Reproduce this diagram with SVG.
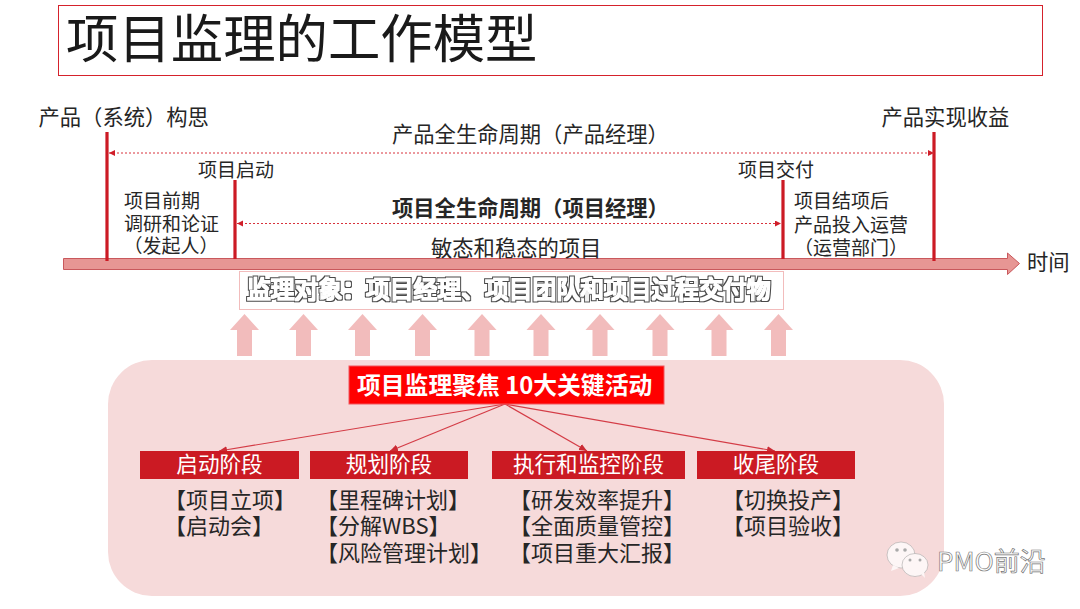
<svg xmlns="http://www.w3.org/2000/svg" width="1080" height="609" viewBox="0 0 1080 609">
<style>
text{font-family:"Noto Sans CJK SC","Liberation Sans",sans-serif;fill:#262626;font-size:21.300px}
.m{text-anchor:middle}
.b{font-weight:700}
.s{font-size:19px}
.vl{stroke:#cc1a24;stroke-width:3.2;fill:none}
.dot{stroke:#d8323c;stroke-width:1;stroke-dasharray:2 2;fill:none}
.up{fill:#f2bcbc}
.ph{fill:#cb1a23}
.pt{fill:#fff;font-size:21.600px}
.ln{stroke:#d43c46;stroke-width:1.2;fill:none}
.it{font-size:22px}
</style>
<defs>
<marker id="ah" markerWidth="7" markerHeight="7" refX="6" refY="3" orient="auto-start-reverse" markerUnits="userSpaceOnUse"><path d="M0 0L6 3L0 6z" fill="#d01f2a"/></marker>
<marker id="ah2" markerWidth="9" markerHeight="8" refX="8" refY="3.500" orient="auto" markerUnits="userSpaceOnUse"><path d="M0 0L8 3.500L0 7z" fill="#cc2a34"/></marker>
<filter id="outline" x="-2%" y="-20%" width="104%" height="140%" color-interpolation-filters="sRGB">
<feMorphology in="SourceAlpha" operator="dilate" radius="2" result="o"/>
<feFlood flood-color="#4a4a4a"/><feComposite in2="o" operator="in" result="dark"/>
<feMorphology in="SourceAlpha" operator="dilate" radius="1" result="i"/>
<feFlood flood-color="#fff"/><feComposite in2="i" operator="in" result="light"/>
<feMerge><feMergeNode in="dark"/><feMergeNode in="light"/></feMerge>
</filter>
</defs>
<rect width="1080" height="609" fill="#fff"/>
<g id="title"><rect x="58.500" y="5.500" width="984" height="70" fill="#fff" stroke="#d5222c" stroke-width="1"/>
<text x="66" y="58" style="font-size:52.400px;fill:#1a1a1a">项目监理的工作模型</text></g>
<g id="focus-panel"><rect x="108" y="360" width="836" height="236" rx="44" fill="#f6dada"/></g>
<g id="axis"><path d="M63.500 258.500H1007.500V253L1019.500 263.500L1007.500 274.500V269.500H63.500z" fill="#e79694" stroke="#c9585c" stroke-width="1"/>
<text x="1027" y="270">时间</text></g>
<g id="connectors">
<path class="vl" d="M107 132V261M235 180V259M783 180V259M934 132V261"/>
<path class="dot" d="M109 153H934" marker-start="url(#ah)" marker-end="url(#ah)"/>
<path class="dot" d="M237 223.500H781" marker-start="url(#ah)" marker-end="url(#ah)"/>
<path class="ln" d="M505 404L219 451" marker-end="url(#ah2)"/>
<path class="ln" d="M505 404L390 451" marker-end="url(#ah2)"/>
<path class="ln" d="M505 404L587 451" marker-end="url(#ah2)"/>
<path class="ln" d="M505 404L775 451" marker-end="url(#ah2)"/>
</g>
<g id="arrows-up">
<path class="up" id="u1" d="M244.500 314L259 330H252V356H237V330H230z"/>
<path class="up" id="u2" d="M303.500 314L318 330H311V356H296V330H289z"/>
<path class="up" id="u3" d="M362.500 314L377 330H370V356H355V330H348z"/>
<path class="up" id="u4" d="M422.500 314L437 330H430V356H415V330H408z"/>
<path class="up" id="u5" d="M482 314L496.500 330H489.500V356H474.500V330H467.500z"/>
<path class="up" id="u6" d="M541 314L555.500 330H548.500V356H533.500V330H526.500z"/>
<path class="up" id="u7" d="M600 314L614.500 330H607.500V356H592.500V330H585.500z"/>
<path class="up" id="u8" d="M660 314L674.500 330H667.500V356H652.500V330H645.500z"/>
<path class="up" id="u9" d="M719 314L733.500 330H726.500V356H711.500V330H704.500z"/>
<path class="up" id="u10" d="M778.500 314L793 330H786V356H771V330H764z"/>
</g>
<g id="milestones">
<text x="38.500" y="125">产品（系统）构思</text>
<text x="881.500" y="125">产品实现收益</text>
<text x="198" y="177" class="s">项目启动</text>
<text x="738" y="177" class="s">项目交付</text>
<text x="392" y="142" style="font-size:21.300px">产品全生命周期（产品经理）</text>
<text x="392" y="216" class="b" style="font-size:21.300px">项目全生命周期（项目经理）</text>
<text x="431" y="256">敏态和稳态的项目</text>
<text x="124" y="208" class="s">项目前期</text>
<text x="124" y="231" class="s">调研和论证</text>
<text x="171" y="253" class="m s">（发起人）</text>
<text x="794" y="208" class="s">项目结项后</text>
<text x="794" y="232" class="s">产品投入运营</text>
<text x="851" y="255" class="m s">（运营部门）</text>
</g>
<g id="object"><rect x="239.500" y="271.500" width="544" height="38" fill="#fff" stroke="#f2bcbc" stroke-width="1"/>
<text x="247" y="298" filter="url(#outline)" style="font-size:23.800px">监理对象：项目经理、项目团队和项目过程交付物</text></g>
<g id="focus-title"><rect x="349" y="366" width="315" height="38" fill="#ff0000" stroke="#f2555c" stroke-width="1"/>
<text x="357" y="394" class="b" style="font-size:23.800px;fill:#fff">项目监理聚焦 10大关键活动</text></g>
<g id="phase1"><rect class="ph" x="140" y="451" width="159" height="28"/><text x="219.500" y="472" class="m pt">启动阶段</text>
<text x="164" y="508" class="it">【项目立项】</text><text x="164" y="534" class="it">【启动会】</text></g>
<g id="phase2"><rect class="ph" x="310" y="451" width="158" height="28"/><text x="389" y="472" class="m pt">规划阶段</text>
<text x="316" y="508" class="it">【里程碑计划】</text><text x="316" y="534" class="it">【分解WBS】</text><text x="316" y="561" class="it">【风险管理计划】</text></g>
<g id="phase3"><rect class="ph" x="492" y="451" width="193" height="28"/><text x="588.500" y="472" class="m pt">执行和监控阶段</text>
<text x="509" y="508" class="it">【研发效率提升】</text><text x="509" y="534" class="it">【全面质量管控】</text><text x="509" y="561" class="it">【项目重大汇报】</text></g>
<g id="phase4"><rect class="ph" x="697" y="451" width="158" height="28"/><text x="776" y="472" class="m pt">收尾阶段</text>
<text x="722" y="508" class="it">【切换投产】</text><text x="722" y="534" class="it">【项目验收】</text></g>
<g id="watermark">
<ellipse cx="901" cy="555" rx="14" ry="13" fill="#fdf6f6" stroke="#999" stroke-width=".5"/><path d="M893 565l-2 6 8-3z" fill="#fdf6f6"/>
<ellipse cx="915" cy="565" rx="13" ry="11.500" fill="#fdf6f6" stroke="#999" stroke-width=".5"/><path d="M921 574l4 4-1-6z" fill="#fdf6f6"/>
<circle cx="897" cy="550" r="1.800" fill="#aaa"/><circle cx="905" cy="550" r="1.800" fill="#aaa"/>
<circle cx="910" cy="560" r="1.500" fill="#aaa"/><circle cx="920" cy="560" r="1.500" fill="#aaa"/>
<text x="937" y="571" style="font-size:26px;fill:#fff;stroke:#777;stroke-width:.7px">PMO前沿</text></g>
</svg>
